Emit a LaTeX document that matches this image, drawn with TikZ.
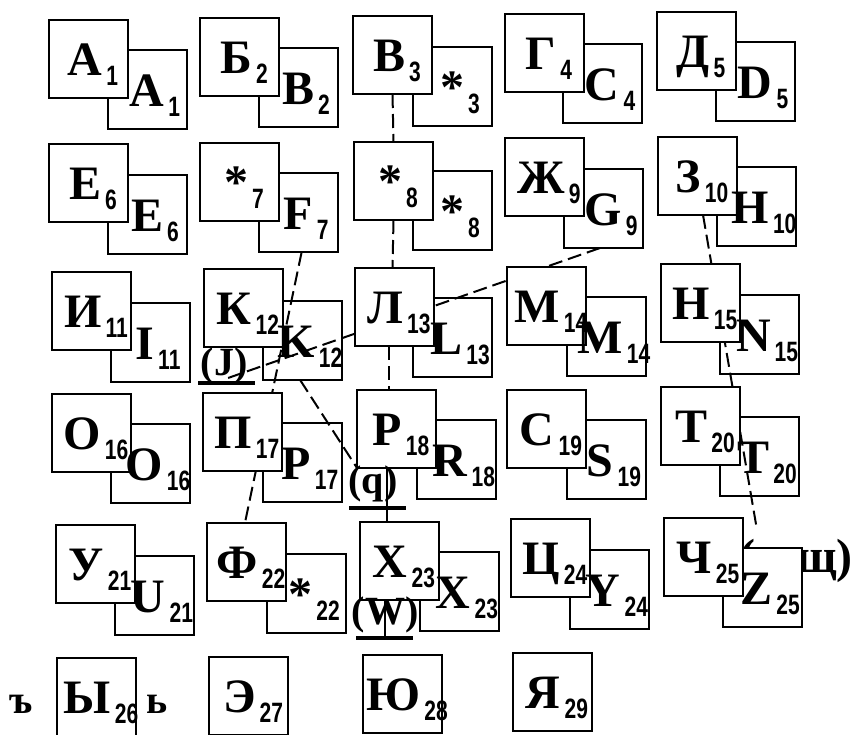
\documentclass[tikz,border=0pt]{standalone}
\usepackage{fontspec}
\setmainfont{Liberation Serif}
\newfontfamily\numfont[FakeStretch=0.75]{Liberation Sans}
\usetikzlibrary{calc}
\pgfdeclarelayer{bottom}
\pgfdeclarelayer{back}
\pgfdeclarelayer{mid}
\pgfsetlayers{bottom,back,mid,main}
\newcommand\lettf{\fontsize{48}{48}\selectfont\bfseries}
\newcommand\markf{\fontsize{40}{40}\selectfont\bfseries}
\newcommand\subn[1]{\kern4pt\raisebox{-10pt}{\numfont\fontsize{28}{28}\selectfont #1}}
\begin{document}
\begin{tikzpicture}[x=1pt,y=-1pt,
  frontbox/.style={draw,line width=2.8pt,fill=white,minimum width=79pt,minimum height=78pt,inner sep=0pt,outer sep=0pt,anchor=north west},
  backbox/.style={draw,line width=1.6pt,fill=white,minimum width=79pt,minimum height=79pt,inner sep=0pt,outer sep=0pt,anchor=north west},
  lbl/.style={inner sep=0pt,anchor=base},
  conn/.style={line width=2pt,dash pattern=on 14pt off 6pt},
  solidconn/.style={line width=2pt},
  bar/.style={line width=4pt}]
\begin{pgfonlayer}{bottom}
\fill[white] (0,0) rectangle (856,734);
\end{pgfonlayer}
\useasboundingbox (0,0) rectangle (856,734);
\foreach \i/\fx/\fy/\bx/\by/\fl/\bl in {
 1/49/20/108/50/А/A, 2/200/18/259/48/Б/B, 3/353/16/413/47/В/*, 4/505/14/563/44/Г/C, 5/657/12/716/42/Д/D,
 6/49/144/108/175/Е/E, 7/200/143/259/173/*/F, 8/354/142/413/171/*/*, 9/505/138/564/169/Ж/G, 10/658/137/717/167/З/H,
 11/52/272/111/303/И/I, 12/204/269/263/301/К/K, 13/355/268/413/298/Л/L, 14/507/267/567/297/М/M, 15/661/264/720/295/Н/N,
 16/52/394/111/424/О/O, 17/203/393/263/423/П/P, 18/357/390/417/420/Р/R, 19/507/390/567/420/С/S, 20/661/387/720/417/Т/T,
 21/56/525/115/556/У/U, 22/207/523/267/554/Ф/*, 23/360/522/420/552/Х/X, 24/511/519/570/550/Ц/Y, 25/664/518/723/548/Ч/Z}{
  \begin{pgfonlayer}{back}
  \node[backbox] (b\i) at (\bx,\by) {};
  \end{pgfonlayer}
  \node[frontbox] (f\i) at (\fx,\fy) {};
  \node[lbl] (ft\i) at (\fx+44,\fy+55) {\lettf \fl\subn{\i}};
  \node[lbl] (bt\i) at (\bx+47,\by+56) {\lettf \bl\subn{\i}};
}
\foreach \i/\fx/\fy/\fl in {26/57/658/Ы, 27/209/657/Э, 28/363/655/Ю, 29/513/653/Я}{
  \node[frontbox] (f\i) at (\fx,\fy) {};
  \node[lbl] (ft\i) at (\fx+44,\fy+55) {\lettf \fl\subn{\i}};
}
% side letters
\node[lbl] (hard) at (21,713) {\markf ъ};
\node[lbl] (soft) at (157,713) {\markf ь};
% small labels
\node[lbl] (jl) at (224,375) {\markf (J)};
\node[lbl] (ql) at (373,493) {\markf (q)};
\node[lbl] (wl) at (385,624) {\markf (W)};
\begin{pgfonlayer}{bottom}
\node[lbl,anchor=base east] (shl) at (853,572) {\lettf (шщ)};
\end{pgfonlayer}
\coordinate (jb1) at (198,383); \coordinate (jb2) at (255,383);
\coordinate (qb1) at (349,508); \coordinate (qb2) at (406,508);
\coordinate (wb1) at (356,638); \coordinate (wb2) at (413,638);
\coordinate (xcol) at (387,0);
\draw[bar] (jb1) -- (jb2);
\draw[bar] (qb1) -- (qb2);
\draw[bar] (wb1) -- (wb2);
\begin{pgfonlayer}{mid}
\draw[conn] (f3.south) -- (f8.north);
\draw[conn] (f8.south) -- ([xshift=-2pt]f13.north);
\draw[conn] ([xshift=-6pt]f13.south) -- ([xshift=-6pt]f13.south |- f18.north);
\draw[solidconn] (f18.south -| xcol) -- (f23.north -| xcol);
\draw[solidconn] ([xshift=-2pt]f23.south -| xcol) -- ([xshift=-2pt]wb1 -| xcol);
\draw[conn] ($(b7.south west)!0.54!(b7.south east)$) -- ($(f22.north west)!0.48!(f22.north east)$);
\draw[conn] ($(b9.south west)!0.456!(b9.south east)$) -- ([xshift=4pt,yshift=-3pt]jl.base);
\draw[conn] ($(b12.south west)!0.47!(b12.south east)$) -- ([xshift=-16pt,yshift=25pt]ql.base);
\draw[conn] ($(f10.south west)!0.57!(f10.south east)$) -- ([xshift=-96pt,yshift=42pt]shl.base east);
\end{pgfonlayer}
\end{tikzpicture}
\end{document}
